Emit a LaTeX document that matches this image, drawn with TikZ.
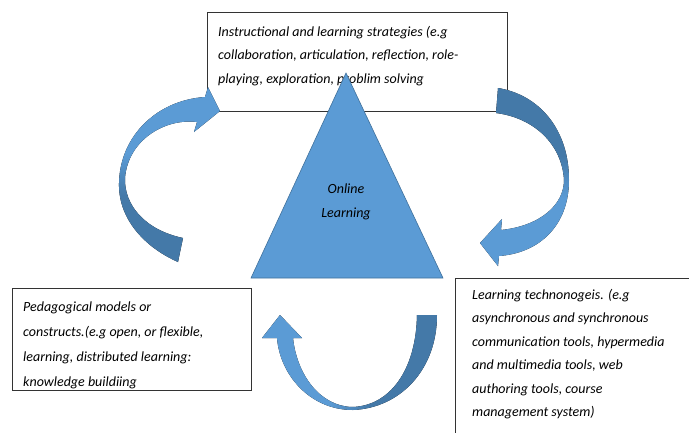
\documentclass[tikz,border=0pt]{standalone}
\usepackage{fontspec}
\setmainfont{Carlito}
\usepackage{tikz}

\definecolor{lightblue}{RGB}{91,155,213}
\definecolor{darkblue}{RGB}{68,121,168}
\definecolor{edgeblue}{RGB}{65,113,156}
% dark at the bottom, light at the top
\pgfdeclareverticalshading{bandshade}{100bp}{color(0bp)=(darkblue); color(44bp)=(darkblue); color(56bp)=(lightblue); color(100bp)=(lightblue)}

\begin{document}
\begin{tikzpicture}[x=1pt, y=-1pt,
  box/.style={draw=black!80, line width=1pt, inner sep=0pt, anchor=north west},
  txt/.style={font=\fontsize{14}{23.5}\selectfont\itshape, align=left, inner sep=0pt, anchor=north west}]
\clip (0,0) rectangle (689,432);

% Boxes
\node[box, minimum width=300pt, minimum height=99pt] (stratbox) at (207,12) {};
\node[box, minimum width=239pt, minimum height=102pt] (pedbox) at (12,288) {};
\node[box, minimum width=260pt, minimum height=170pt] (techbox) at (455,278) {};

% Box texts
\node[txt] (strat) at (218,26) {Instructional and learning strategies (e.g\\collaboration, articulation, reflection, role-\\playing, exploration, problim solving};
\node[txt, font=\fontsize{14}{24.7}\selectfont\itshape] (ped) at (23,302) {Pedagogical models or\\constructs.(e.g open, or flexible,\\learning, distributed learning:\\knowledge buildiing};
\node[txt] (tech) at (472,289) {Learning technonogeis. (e.g\\asynchronous and synchronous\\communication tools, hypermedia\\and multimedia tools, web\\authoring tools, course\\management system)};

% Triangle
\filldraw[fill=lightblue, draw=edgeblue, line width=0.6pt] (346,73) -- (443,278) -- (251,278) -- cycle;
\node[font=\fontsize{14}{24}\selectfont\itshape, align=center] (online) at (346,202) {Online\\Learning};

% Left arrow
\fill[shading=bandshade] (178,262) .. controls (140,245) and (118,215) .. (119,183)
  .. controls (120,135) and (158,100) .. (205,97)
  -- (208,87) -- (220,111) -- (194,132) -- (197,122)
  .. controls (165,118) and (128,140) .. (125,178)
  .. controls (124,205) and (145,230) .. (183,238) -- cycle;

% Right arrow
\fill[shading=bandshade, shading angle=180] (498,88) .. controls (540,95) and (569,130) .. (569,180)
  .. controls (569,225) and (540,253) .. (499,256)
  -- (498,266) -- (480,243) -- (502,219) -- (501,230)
  .. controls (540,226) and (564,205) .. (564,180)
  .. controls (562,145) and (535,118) .. (496,113) -- cycle;

% Bottom arrow
\fill[shading=bandshade, shading angle=90] (437,315) .. controls (437,370) and (400,408) .. (353,410)
  .. controls (310,410) and (280,375) .. (277,338)
  -- (262,338) -- (280,315) -- (302,338) -- (293,338)
  .. controls (297,375) and (320,406) .. (352,407)
  .. controls (390,406) and (416,370) .. (417,315) -- cycle;
\end{tikzpicture}
\end{document}
